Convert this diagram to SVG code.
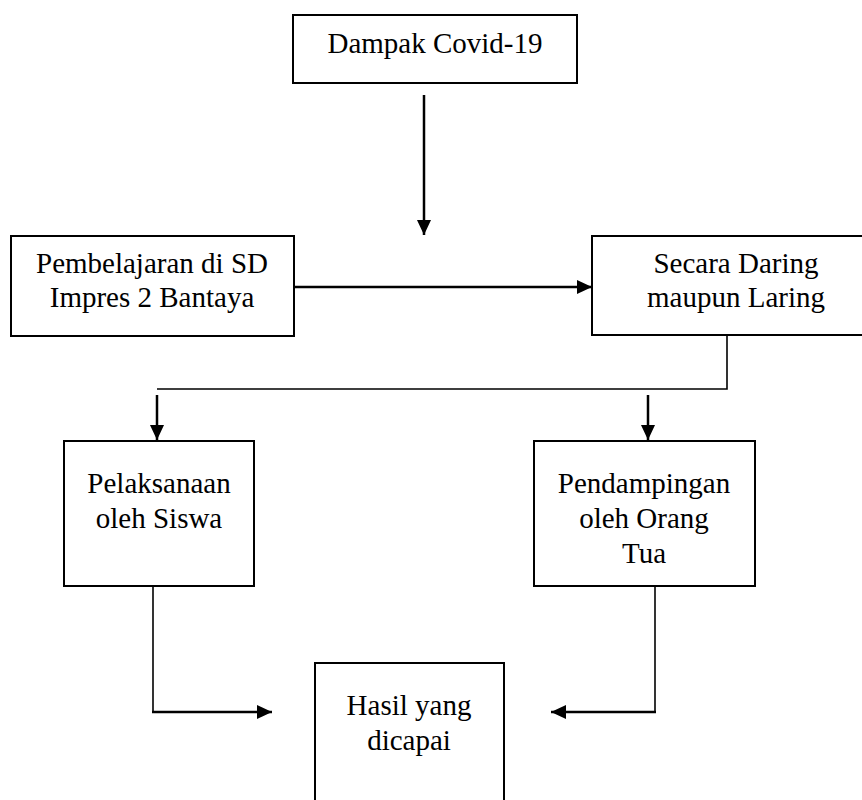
<svg xmlns="http://www.w3.org/2000/svg" width="862" height="800" viewBox="0 0 862 800">
<style>
.box{fill:#fff;stroke:#000;stroke-width:2}
.t{font-family:"Liberation Serif","Times New Roman",serif;font-size:29px;fill:#000;text-anchor:middle}
.c{fill:none;stroke:#000}
.thick{stroke-width:2.5}
.thin{stroke-width:1.6}
</style>
<defs>
<marker id="ah" markerUnits="userSpaceOnUse" markerWidth="16" markerHeight="14" refX="15" refY="7" orient="auto">
<path d="M0,0 L15,7 L0,14 Z" fill="#000"/>
</marker>
</defs>
<rect width="862" height="800" fill="#fff"/>
<g id="connectors">
<line class="c thick" x1="424" y1="95" x2="424" y2="235" marker-end="url(#ah)"/>
<line class="c thick" x1="294" y1="287" x2="592" y2="287" marker-end="url(#ah)"/>
<polyline class="c thin" points="727,336 727,389 157,389"/>
<line class="c thick" x1="157" y1="395" x2="157" y2="440" marker-end="url(#ah)"/>
<line class="c thick" x1="648" y1="395" x2="648" y2="440" marker-end="url(#ah)"/>
<line class="c thin" x1="153" y1="587" x2="153" y2="712"/>
<line class="c thick" x1="152" y1="712" x2="272" y2="712" marker-end="url(#ah)"/>
<line class="c thin" x1="655" y1="587" x2="655" y2="712"/>
<line class="c thick" x1="656" y1="712" x2="551" y2="712" marker-end="url(#ah)"/>
</g>
<g id="n1">
<rect class="box" x="293" y="15" width="284" height="68"/>
<text class="t" x="435" y="53">Dampak Covid-19</text>
</g>
<g id="n2">
<rect class="box" x="11" y="236" width="283" height="100"/>
<text class="t" x="152" y="273">Pembelajaran di SD</text>
<text class="t" x="152" y="307">Impres 2 Bantaya</text>
</g>
<g id="n3">
<rect class="box" x="592" y="236" width="288" height="99"/>
<text class="t" x="736" y="273">Secara Daring</text>
<text class="t" x="736" y="307">maupun Laring</text>
</g>
<g id="n4">
<rect class="box" x="64" y="441" width="190" height="145"/>
<text class="t" x="159" y="493">Pelaksanaan</text>
<text class="t" x="159" y="528">oleh Siswa</text>
</g>
<g id="n5">
<rect class="box" x="534" y="441" width="221" height="145"/>
<text class="t" x="644" y="493">Pendampingan</text>
<text class="t" x="644" y="528">oleh Orang</text>
<text class="t" x="644" y="563">Tua</text>
</g>
<g id="n6">
<rect class="box" x="315" y="663" width="189" height="160"/>
<text class="t" x="409" y="715">Hasil yang</text>
<text class="t" x="409" y="750">dicapai</text>
</g>
</svg>
